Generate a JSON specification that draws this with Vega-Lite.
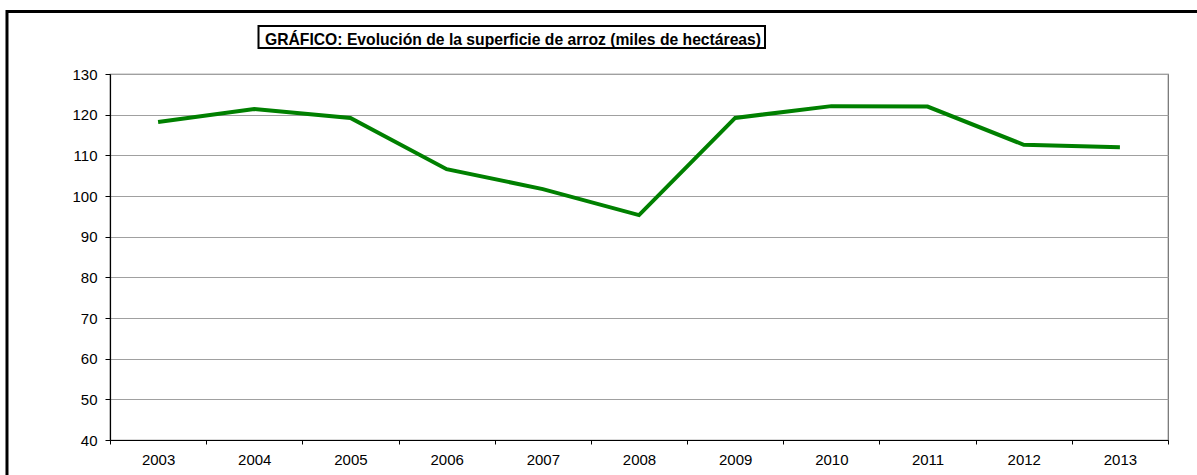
{
  "$schema": "https://vega.github.io/schema/vega-lite/v6.json",
  "width": 1058,
  "height": 366,
  "autosize": "none",
  "padding": {"left": 110, "top": 74, "right": 29, "bottom": 35},
  "background": "white",
  "config": {
    "font": "Liberation Sans",
    "view": {"stroke": "#6e6e6e", "strokeWidth": 1.2},
    "axis": {"labelFont": "Liberation Sans", "labelFontSize": 15, "labelColor": "#000000", "domainColor": "#000000", "tickColor": "#000000", "domainWidth": 1.2}
  },
  "layer": [
    {
      "data": {"values": [
        {"year": 2003, "area": 118.2},
        {"year": 2004, "area": 121.4},
        {"year": 2005, "area": 119.2},
        {"year": 2006, "area": 106.6},
        {"year": 2007, "area": 101.7},
        {"year": 2008, "area": 95.3},
        {"year": 2009, "area": 119.2},
        {"year": 2010, "area": 122.1},
        {"year": 2011, "area": 122.0},
        {"year": 2012, "area": 112.6},
        {"year": 2013, "area": 112.0}
      ]},
      "mark": {"type": "line", "color": "#008000", "strokeWidth": 4, "strokeJoin": "miter"},
      "encoding": {
        "x": {"field": "year", "type": "quantitative",
          "scale": {"domain": [2002.5, 2013.5], "nice": false, "zero": false},
          "axis": {"title": null, "grid": false,
            "values": [2002.5, 2003.5, 2004.5, 2005.5, 2006.5, 2007.5, 2008.5, 2009.5, 2010.5, 2011.5, 2012.5, 2013.5],
            "labelExpr": "datum.value > 2013 ? '' : toString(datum.value + 0.5)",
            "labelOffset": 48.1, "labelAlign": "center", "tickSize": 4, "labelPadding": 8}},
        "y": {"field": "area", "type": "quantitative",
          "scale": {"domain": [40, 130], "nice": false, "zero": false},
          "axis": {"title": null, "values": [40, 50, 60, 70, 80, 90, 100, 110, 120, 130],
            "grid": true, "gridColor": "#a0a0a0", "gridWidth": 1, "tickSize": 5, "labelPadding": 8}}
      }
    },
    {
      "data": {"values": [{}]},
      "mark": {"type": "rect", "fill": null, "stroke": "#000000", "strokeWidth": 3, "clip": false},
      "encoding": {
        "x": {"datum": 2001.429, "type": "quantitative"},
        "x2": {"datum": 2013.94},
        "y": {"datum": 145.37, "type": "quantitative"},
        "y2": {"datum": 27.7}
      }
    },
    {
      "data": {"values": [{}]},
      "mark": {"type": "rect", "fill": "white", "stroke": "#000000", "strokeWidth": 2, "clip": false},
      "encoding": {
        "x": {"datum": 2004.044, "type": "quantitative"},
        "x2": {"datum": 2009.31},
        "y": {"datum": 141.8, "type": "quantitative"},
        "y2": {"datum": 136.39}
      }
    },
    {
      "data": {"values": [{"label": "GRÁFICO: Evolución de la superficie de arroz (miles de hectáreas)"}]},
      "mark": {"type": "text", "font": "Liberation Sans", "fontWeight": "bold", "fontSize": 15.7, "align": "center", "baseline": "alphabetic", "color": "#000000", "clip": false},
      "encoding": {
        "x": {"datum": 2006.69, "type": "quantitative"},
        "y": {"datum": 137.2, "type": "quantitative"},
        "text": {"field": "label"}
      }
    }
  ]
}
